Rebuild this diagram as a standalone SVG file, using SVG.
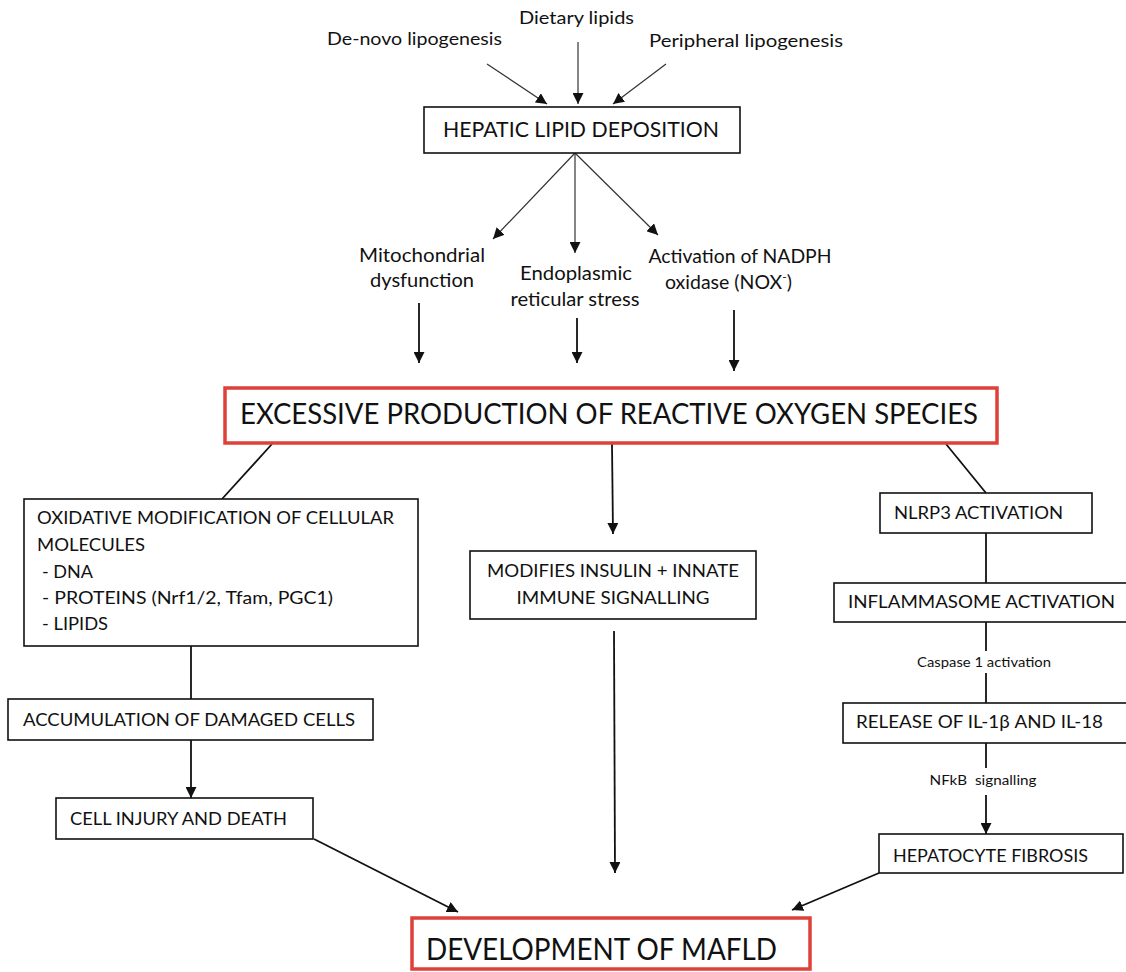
<svg xmlns="http://www.w3.org/2000/svg" width="1126" height="972" viewBox="0 0 1126 972">
<style>
text{font-family:Lato,"Open Sans","Liberation Sans",sans-serif;fill:#111}
.box{fill:#fff;stroke:#111;stroke-width:1.6}
.red{fill:#fff;stroke:#e0403a;stroke-width:3.5}
.c{fill:none;stroke:#111;stroke-width:1.8}
.t{fill:none;stroke:#333;stroke-width:1.2}
</style>
<defs>
<marker id="ah" viewBox="0 0 10 10" refX="10" refY="5" markerWidth="11" markerHeight="11" markerUnits="userSpaceOnUse" orient="auto"><path d="M0,0 L10,5 L0,10 z" fill="#111"/></marker>
</defs>
<rect width="1126" height="972" fill="#fff"/>

<g id="connectors">
<line class="t" x1="487" y1="64" x2="547" y2="104" marker-end="url(#ah)"/>
<line class="t" x1="578" y1="42" x2="578" y2="104" marker-end="url(#ah)"/>
<line class="t" x1="666" y1="64" x2="613" y2="104" marker-end="url(#ah)"/>
<line class="t" x1="575" y1="153" x2="493" y2="239" marker-end="url(#ah)"/>
<line class="t" x1="575" y1="153" x2="575" y2="253" marker-end="url(#ah)"/>
<line class="t" x1="575" y1="153" x2="658" y2="235" marker-end="url(#ah)"/>
<line class="c" x1="419" y1="303" x2="419" y2="363" marker-end="url(#ah)"/>
<line class="c" x1="577" y1="318" x2="577" y2="363" marker-end="url(#ah)"/>
<line class="c" x1="734" y1="310" x2="734" y2="371" marker-end="url(#ah)"/>
<line class="c" x1="272" y1="444" x2="222" y2="499"/>
<line class="c" x1="612" y1="444" x2="613" y2="534" marker-end="url(#ah)"/>
<line class="c" x1="946" y1="444" x2="986" y2="493"/>
<line class="c" x1="191" y1="646" x2="191" y2="699"/>
<line class="c" x1="191" y1="740" x2="191" y2="798" marker-end="url(#ah)"/>
<line class="c" x1="314" y1="839" x2="458" y2="912" marker-end="url(#ah)"/>
<line class="c" x1="614" y1="631" x2="615" y2="873" marker-end="url(#ah)"/>
<line class="c" x1="986" y1="533" x2="986" y2="583"/>
<line class="c" x1="986" y1="622" x2="986" y2="651"/>
<line class="c" x1="986" y1="673" x2="986" y2="703"/>
<line class="c" x1="986" y1="743" x2="986" y2="768"/>
<line class="c" x1="986" y1="795" x2="986" y2="834" marker-end="url(#ah)"/>
<line class="c" x1="879" y1="873" x2="792" y2="910" marker-end="url(#ah)"/>
<text x="984" y="667" font-size="13" text-anchor="middle" textLength="134" lengthAdjust="spacingAndGlyphs">Caspase 1 activation</text>
<text x="983" y="785" font-size="13.5" text-anchor="middle" textLength="107" lengthAdjust="spacingAndGlyphs" xml:space="preserve">NFkB  signalling</text>
</g>

<g id="src-denovo"><text x="327" y="45" font-size="17" textLength="175" lengthAdjust="spacingAndGlyphs">De-novo lipogenesis</text></g>
<g id="src-dietary"><text x="519" y="24" font-size="17" textLength="115" lengthAdjust="spacingAndGlyphs">Dietary lipids</text></g>
<g id="src-peripheral"><text x="649" y="47" font-size="17" textLength="194" lengthAdjust="spacingAndGlyphs">Peripheral lipogenesis</text></g>

<g id="hepatic">
<rect class="box" x="424" y="107" width="316" height="46"/>
<text x="443" y="137" font-size="22" textLength="276" lengthAdjust="spacingAndGlyphs">HEPATIC LIPID DEPOSITION</text>
</g>

<g id="mito">
<text x="422" y="262" font-size="19.5" text-anchor="middle" textLength="126" lengthAdjust="spacingAndGlyphs">Mitochondrial</text>
<text x="422" y="287" font-size="19.5" text-anchor="middle" textLength="104" lengthAdjust="spacingAndGlyphs">dysfunction</text>
</g>
<g id="endo">
<text x="576" y="280" font-size="19.5" text-anchor="middle" textLength="112" lengthAdjust="spacingAndGlyphs">Endoplasmic</text>
<text x="575" y="306" font-size="19.5" text-anchor="middle" textLength="129" lengthAdjust="spacingAndGlyphs">reticular stress</text>
</g>
<g id="nadph">
<text x="740" y="263" font-size="19.5" text-anchor="middle" textLength="183" lengthAdjust="spacingAndGlyphs">Activation of NADPH</text>
<text x="665" y="289" font-size="19.5">oxidase (NOX<tspan font-size="12" dy="-8">-</tspan><tspan dy="8">)</tspan></text>
</g>

<g id="ros">
<rect class="red" x="225" y="388" width="772" height="55"/>
<text x="240" y="424" font-size="28" textLength="738" lengthAdjust="spacingAndGlyphs">EXCESSIVE PRODUCTION OF REACTIVE OXYGEN SPECIES</text>
</g>

<g id="oxidative">
<rect class="box" x="24" y="499" width="394" height="147"/>
<text x="37" y="524" font-size="18" textLength="357" lengthAdjust="spacingAndGlyphs">OXIDATIVE MODIFICATION OF CELLULAR</text>
<text x="37" y="551" font-size="18" textLength="108" lengthAdjust="spacingAndGlyphs">MOLECULES</text>
<text x="42" y="578" font-size="18" textLength="51" lengthAdjust="spacingAndGlyphs">- DNA</text>
<text x="42" y="604" font-size="18" textLength="291" lengthAdjust="spacingAndGlyphs">- PROTEINS (Nrf1/2, Tfam, PGC1)</text>
<text x="42" y="630" font-size="18" textLength="66" lengthAdjust="spacingAndGlyphs">- LIPIDS</text>
</g>

<g id="accumulation">
<rect class="box" x="8" y="699" width="365" height="41"/>
<text x="23" y="726" font-size="18" textLength="332" lengthAdjust="spacingAndGlyphs">ACCUMULATION OF DAMAGED CELLS</text>
</g>

<g id="injury">
<rect class="box" x="56" y="798" width="257" height="41"/>
<text x="70" y="825" font-size="18" textLength="217" lengthAdjust="spacingAndGlyphs">CELL INJURY AND DEATH</text>
</g>

<g id="modifies">
<rect class="box" x="470" y="551" width="286" height="68"/>
<text x="613" y="577" font-size="17.5" text-anchor="middle" textLength="252" lengthAdjust="spacingAndGlyphs">MODIFIES INSULIN + INNATE</text>
<text x="613" y="604" font-size="17.5" text-anchor="middle" textLength="193" lengthAdjust="spacingAndGlyphs">IMMUNE SIGNALLING</text>
</g>

<g id="nlrp3">
<rect class="box" x="880" y="493" width="212" height="40"/>
<text x="894" y="519" font-size="18" textLength="169" lengthAdjust="spacingAndGlyphs">NLRP3 ACTIVATION</text>
</g>

<g id="inflammasome">
<rect class="box" x="834" y="583" width="300" height="39"/>
<text x="848" y="608" font-size="18" textLength="267" lengthAdjust="spacingAndGlyphs">INFLAMMASOME ACTIVATION</text>
</g>

<g id="release">
<rect class="box" x="843" y="703" width="290" height="40"/>
<text x="856" y="728" font-size="17.5" textLength="247" lengthAdjust="spacingAndGlyphs">RELEASE OF IL-1β AND IL-18</text>
</g>

<g id="fibrosis">
<rect class="box" x="879" y="834" width="244" height="39"/>
<text x="893" y="862" font-size="18" textLength="195" lengthAdjust="spacingAndGlyphs">HEPATOCYTE FIBROSIS</text>
</g>

<g id="mafld">
<rect class="red" x="412" y="918" width="398" height="51"/>
<text x="426" y="960" font-size="31" textLength="351" lengthAdjust="spacingAndGlyphs">DEVELOPMENT OF MAFLD</text>
</g>
</svg>
